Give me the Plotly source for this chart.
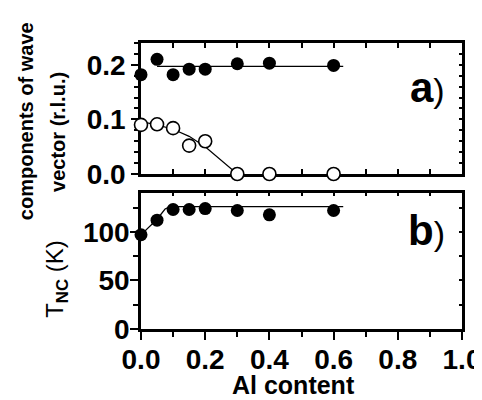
import plotly.graph_objects as go

# Data
al = [0.0, 0.05, 0.1, 0.15, 0.2, 0.3, 0.4, 0.6]
q_filled = [0.182, 0.210, 0.182, 0.192, 0.192, 0.202, 0.203, 0.199]
q_open = [0.090, 0.091, 0.084, 0.052, 0.060, 0.0, 0.0, 0.0]
t_nc = [97, 112, 123, 123, 124, 122, 117.5, 122]

fit_q1_x = [0.05, 0.63]
fit_q1_y = [0.197, 0.197]
fit_q2_x = [0.0, 0.05, 0.1, 0.15, 0.2, 0.25, 0.3]
fit_q2_y = [0.096, 0.090, 0.082, 0.069, 0.050, 0.025, 0.0]
fit_t_x = [0.0, 0.05, 0.075, 0.09, 0.63]
fit_t_y = [97, 113, 123.5, 126, 126]

xticks = [0.0, 0.2, 0.4, 0.6, 0.8, 1.0]

FONT = "Liberation Sans"
BLACK = "black"

fig = go.Figure()

line_style = dict(color=BLACK, width=1.2)
filled = dict(symbol="circle", size=13, color=BLACK, line=dict(width=0))

# top panel
fig.add_trace(go.Scatter(x=fit_q1_x, y=fit_q1_y, mode="lines", line=line_style,
                         xaxis="x", yaxis="y", showlegend=False, hoverinfo="skip"))
fig.add_trace(go.Scatter(x=fit_q2_x, y=fit_q2_y, mode="lines", line=line_style,
                         xaxis="x", yaxis="y", showlegend=False, hoverinfo="skip"))
fig.add_trace(go.Scatter(x=al, y=q_filled, mode="markers", marker=filled,
                         xaxis="x", yaxis="y", showlegend=False, cliponaxis=False))
fig.add_trace(go.Scatter(x=al, y=q_open, mode="markers",
                         marker=dict(symbol="circle", size=13, color="white",
                                     line=dict(width=1.6, color=BLACK)),
                         xaxis="x", yaxis="y", showlegend=False, cliponaxis=False))
# bottom panel
fig.add_trace(go.Scatter(x=fit_t_x, y=fit_t_y, mode="lines", line=line_style,
                         xaxis="x2", yaxis="y2", showlegend=False, hoverinfo="skip"))
fig.add_trace(go.Scatter(x=al, y=t_nc, mode="markers", marker=filled,
                         xaxis="x2", yaxis="y2", showlegend=False, cliponaxis=False))
# helper traces for the right/top inside-tick axes
fig.add_trace(go.Scatter(x=[], y=[], xaxis="x", yaxis="y3", showlegend=False))
fig.add_trace(go.Scatter(x=[], y=[], xaxis="x4", yaxis="y2", showlegend=False))
fig.add_trace(go.Scatter(x=[], y=[], xaxis="x2", yaxis="y4", showlegend=False))

tickfont = dict(family=FONT, size=28, color=BLACK, weight="bold")
axline = dict(showline=True, linecolor=BLACK, linewidth=2.6, showgrid=False,
              zeroline=False, tickcolor=BLACK, tickwidth=2, automargin=False)
helper = dict(showticklabels=False, showline=False, showgrid=False,
              zeroline=False, tickcolor=BLACK, tickwidth=1.5, ticklen=3,
              ticks="inside", automargin=False)

top_dom = [0.542, 1.0]
bot_dom = [0.0, 0.4755]

# page body has an 8px default margin, so the figure is sized to fit inside it
fig.update_layout(
    width=474, height=392,
    margin=dict(l=133, r=20, t=35, b=71, autoexpand=False),
    paper_bgcolor="white", plot_bgcolor="white",
    xaxis=dict(domain=[0, 1], anchor="y", range=[0, 1], ticks="inside",
               tick0=0, dtick=0.1, ticklen=5, showticklabels=False,
               mirror="ticks", layer="below traces", **axline),
    yaxis=dict(domain=top_dom, anchor="x", range=[0, 0.24], ticks="outside",
               tick0=0, dtick=0.1, ticklen=7, tickformat=".1f", tickfont=tickfont,
               minor=dict(dtick=0.02, tick0=0, ticklen=4, ticks="outside",
                          tickcolor=BLACK, tickwidth=2),
               mirror=True, layer="below traces", **axline),
    yaxis3=dict(overlaying="y", side="right", anchor="x", range=[0, 0.24],
                tick0=0, dtick=0.02, **helper),
    xaxis2=dict(domain=[0, 1], anchor="y2", range=[0, 1], ticks="outside",
                tickvals=xticks, ticklen=8, tickformat=".1f", tickfont=tickfont,
                ticklabeloverflow="allow", ticklabelstandoff=-4,
                minor=dict(dtick=0.1, tick0=0, ticklen=5, ticks="outside",
                           tickcolor=BLACK, tickwidth=2),
                mirror=True, layer="below traces", **axline),
    xaxis4=dict(overlaying="x2", side="top", anchor="y2", range=[0, 1],
                tick0=0, dtick=0.1, **helper),
    yaxis2=dict(domain=bot_dom, anchor="x2", range=[0, 140], ticks="outside",
                tick0=0, dtick=50, ticklen=8, tickfont=tickfont,
                ticklabelstandoff=-5,
                minor=dict(dtick=25, tick0=0, ticklen=5, ticks="outside",
                           tickcolor=BLACK, tickwidth=2),
                mirror=True, layer="below traces", **axline),
    yaxis4=dict(overlaying="y2", side="right", anchor="x2", range=[0, 140],
                tick0=0, dtick=25, **helper),
)

ann_font = dict(family=FONT, color=BLACK)
fig.add_annotation(text="<b>Al content</b>", xref="paper", yref="paper",
                   x=0.476, y=-0.196, showarrow=False,
                   xanchor="center", yanchor="middle", font=dict(size=25, **ann_font))
fig.add_annotation(text="<b>components of wave</b>", xref="paper", yref="paper",
                   x=-0.358, y=0.727, textangle=-90, showarrow=False,
                   xanchor="center", yanchor="middle", font=dict(size=20, **ann_font))
fig.add_annotation(text="<b>vector (r.l.u.)</b>", xref="paper", yref="paper",
                   x=-0.2586, y=0.689, textangle=-90, showarrow=False,
                   xanchor="center", yanchor="middle", font=dict(size=20, **ann_font))
fig.add_annotation(text="T<sub><b>NC</b></sub> (K)", xref="paper", yref="paper",
                   x=-0.262, y=0.175, textangle=-90, showarrow=False,
                   xanchor="center", yanchor="middle", font=dict(size=24, **ann_font))
fig.add_annotation(text="<b>a</b><span style='font-size:34px'>)</span>",
                   xref="paper", yref="paper", x=0.894, y=0.843, showarrow=False,
                   xanchor="center", yanchor="middle", font=dict(size=42, **ann_font))
fig.add_annotation(text="<b>b</b><span style='font-size:34px'>)</span>",
                   xref="paper", yref="paper", x=0.888, y=0.343, showarrow=False,
                   xanchor="center", yanchor="middle", font=dict(size=42, **ann_font))

fig.write_html("out.html")
